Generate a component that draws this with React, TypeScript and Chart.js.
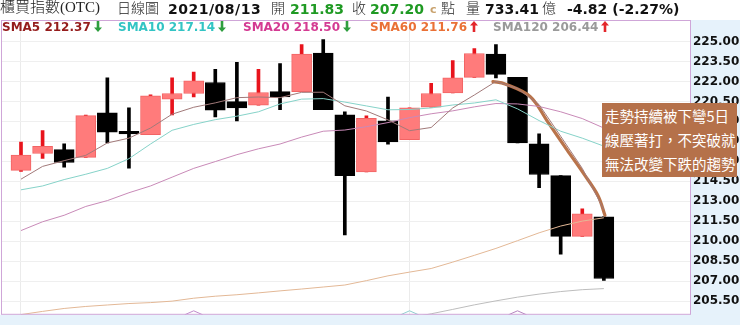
import React, { useEffect, useRef } from "react";
import { Chart, registerables } from "chart.js";
Chart.register(...registerables);

// ---- data ----
const dayIndex = [0, 1, 2, 3, 4, 5, 6, 7, 8, 9, 10, 11, 12, 13, 14, 15, 16, 17, 18, 19, 20, 21, 22, 23, 24, 25, 26, 27];
const openVals = [215.32, 216.59, 216.88, 216.3, 219.65, 218.26, 218.01, 220.67, 221.09, 221.92, 220.48, 220.21, 221.24, 221.24, 224.12, 219.5, 215.2, 219.04, 217.62, 220.07, 221.14, 222.31, 224.05, 222.31, 217.32, 214.93, 210.36, 211.83];
const closeVals = [216.47, 217.13, 215.91, 219.43, 218.18, 218.06, 220.92, 221.09, 222.05, 219.85, 220.01, 221.17, 220.84, 224.05, 219.87, 214.93, 219.23, 217.45, 220.01, 221.09, 222.27, 224.1, 222.53, 217.38, 215.01, 210.36, 212.05, 207.2];
const highVals = [217.45, 218.31, 217.32, 219.48, 222.27, 220.01, 220.99, 222.27, 222.71, 222.9, 223.44, 222.9, 223.34, 224.76, 225.15, 219.72, 219.41, 220.82, 220.01, 221.85, 223.56, 224.46, 224.76, 222.31, 218.06, 214.93, 212.44, 211.83];
const lowVals = [215.25, 216.22, 215.57, 216.3, 217.38, 215.49, 218.01, 219.48, 220.84, 219.33, 219.04, 220.21, 219.87, 221.24, 219.87, 210.48, 215.2, 217.28, 217.62, 220.07, 221.14, 222.31, 222.27, 217.38, 214.03, 209.02, 210.36, 207.06];

const sma5 = [214.66, 215.62, 216.05, 216.45, 217.38, 217.74, 218.5, 219.54, 220.06, 220.39, 220.78, 220.83, 220.78, 221.18, 221.19, 220.17, 219.78, 219.11, 218.3, 218.54, 220.01, 220.98, 222.0, 221.47, 220.26, 217.88, 215.47, 212.37];
const sma10 = [213.86, 214.15, 214.63, 215.03, 215.47, 216.2, 217.3, 218.33, 218.77, 219.13, 219.39, 219.72, 220.31, 220.67, 220.71, 220.45, 220.16, 219.87, 219.89, 220.01, 220.23, 220.38, 220.62, 219.94, 219.06, 218.26, 217.74, 217.14];
const sma20 = [210.8, 211.46, 211.95, 212.61, 213.05, 213.64, 214.15, 214.81, 215.47, 215.98, 216.5, 216.94, 217.3, 217.82, 218.26, 218.35, 218.6, 218.91, 219.28, 219.57, 219.79, 220.09, 220.34, 220.31, 220.12, 219.72, 219.21, 218.5];
const sma60 = [204.49, 204.73, 204.95, 205.1, 205.21, 205.32, 205.39, 205.5, 205.72, 205.87, 205.98, 206.12, 206.27, 206.41, 206.56, 206.71, 207.04, 207.4, 207.68, 207.95, 208.43, 208.94, 209.46, 210.04, 210.63, 211.14, 211.51, 211.76];
const sma120 = [null, null, null, null, null, null, null, null, null, null, null, null, null, null, null, null, null, 204.0, 204.25, 204.55, 204.88, 205.22, 205.52, 205.8, 206.03, 206.22, 206.36, 206.44];

// hand-drawn annotation stroke
const annoX = [21.86, 22.42, 23.58, 24.37, 25.3, 26.04, 26.73, 27.05];
const annoY = [221.99, 221.81, 220.87, 219.04, 216.84, 215.13, 213.42, 211.95];

const yTicks = [205.5, 207, 208.5, 210, 211.5, 213, 214.5, 216, 217.5, 219, 220.5, 222, 223.5, 225];
const gridDays = [0, 18];
const markerDays = [8, 18, 23];
const markerColors = ["#c08ccc", "#8fd0d0", "#b483bf"];

const smaNames = ["SMA5", "SMA10", "SMA20", "SMA60", "SMA120"];
const smaSeries = [sma5, sma10, sma20, sma60, sma120];
const smaTextColors = ["#951c1c", "#33c4c4", "#d43a92", "#ea7136", "#9a9a9a"];
const smaLineColors = ["#a27a7a", "#86d3c9", "#c98ab8", "#e3b896", "#bdbdbd"];
const legendX = [2, 118, 243, 370, 493];

const headerTitle = "櫃買指數(OTC)";
const headerType = "日線圖";
const headerDate = "2021/08/13";
const headerOpen = 211.83;
const headerClose = 207.2;
const headerVolume = 733.41;
const headerChange = -4.82;
const headerChangePct = -2.27;

const annotationLines = ["走勢持續被下彎5日", "線壓著打，不突破就", "無法改變下跌的趨勢"];

const Y_MIN = 204.474;
const Y_MAX = 226.613;
const X_MIN = -0.88;
const X_MAX = 30.99;

const CJK = "'Noto Sans CJK TC', 'Noto Sans CJK SC', sans-serif";
const NUM = "'DejaVu Sans', Verdana, sans-serif";

const bgPlugin = {
  id: "bgPlugin",
  beforeDraw(chart: any) {
    const { ctx, chartArea, width, height } = chart;
    ctx.save();
    ctx.fillStyle = "#ffffff";
    ctx.fillRect(0, 0, width, height);
    ctx.fillStyle = "#e6f2fb";
    ctx.fillRect(chartArea.right, chartArea.top, width - chartArea.right, height - chartArea.top);
    ctx.fillRect(0, chartArea.bottom, width, height - chartArea.bottom);
    ctx.restore();
  },
  afterDraw(chart: any) {
    const { ctx, chartArea } = chart;
    ctx.save();
    ctx.strokeStyle = "#cfa6d8";
    ctx.lineWidth = 1;
    ctx.strokeRect(chartArea.left - 0.5, chartArea.top + 0.5, chartArea.right - chartArea.left + 1, chartArea.bottom - chartArea.top - 1);
    ctx.restore();
  },
};

function Arrow({ up }: { up: boolean }) {
  const color = up ? "#e3262b" : "#2f9e3f";
  return (
    <svg width={8} height={11} viewBox="0 0 8 11" style={{ marginLeft: 3, verticalAlign: "-1px" }}>
      <g transform={up ? "" : "rotate(180 4 5.5)"}>
        <polygon points="4,0 8,4.6 5.3,4.6 5.3,11 2.7,11 2.7,4.6 0,4.6" fill={color} />
      </g>
    </svg>
  );
}

export default function App() {
  const ref = useRef<HTMLCanvasElement>(null);

  useEffect(() => {
    document.body.style.margin = "0";
    const canvas = ref.current!;
    const isUp = (i: number) => closeVals[i] >= openVals[i];

    const lineDs = (data: any[], color: string, width: number, extra: any = {}) => ({
      type: "line",
      data,
      borderColor: color,
      borderWidth: width,
      pointRadius: 0,
      fill: false,
      tension: 0,
      order: 0,
      ...extra,
    });

    const datasets: any[] = [
      {
        type: "bar",
        data: dayIndex.map((d, i) => ({ x: d, y: [lowVals[i], highVals[i]] })),
        backgroundColor: (c: any) => (isUp(c.dataIndex) ? "#e8141c" : "#000000"),
        borderWidth: 0,
        grouped: false,
        categoryPercentage: 1,
        barPercentage: 1,
        maxBarThickness: 3,
        order: 3,
      },
      {
        type: "bar",
        data: dayIndex.map((d, i) => ({ x: d, y: [openVals[i], closeVals[i]] })),
        backgroundColor: (c: any) => (isUp(c.dataIndex) ? "#ff7b7b" : "#000000"),
        borderColor: (c: any) => (isUp(c.dataIndex) ? "#f26464" : "#000000"),
        borderWidth: 1,
        borderSkipped: false,
        grouped: false,
        categoryPercentage: 1,
        barPercentage: 1,
        maxBarThickness: 20,
        order: 2,
      },
    ];

    smaSeries.forEach((s, k) => {
      datasets.push(lineDs(dayIndex.map((d, i) => ({ x: d, y: s[i] })), smaLineColors[k], 1));
    });

    markerDays.forEach((d, k) => {
      datasets.push(
        lineDs(
          [
            { x: d - 0.42, y: Y_MIN },
            { x: d, y: Y_MIN + 0.3 },
            { x: d + 0.42, y: Y_MIN },
          ],
          markerColors[k],
          1
        )
      );
    });

    datasets.push(
      lineDs(annoX.map((x, i) => ({ x, y: annoY[i] })), "#b9744b", 3.2, {
        tension: 0.35,
        borderCapStyle: "round",
        borderJoinStyle: "round",
      })
    );

    const chart = new Chart(canvas, {
      type: "bar",
      data: { datasets },
      options: {
        responsive: false,
        animation: false,
        layout: { padding: { left: 2, top: 20, right: 0, bottom: 3 } },
        plugins: { legend: { display: false }, tooltip: { enabled: false } },
        scales: {
          x: {
            type: "linear",
            offset: false,
            min: X_MIN,
            max: X_MAX,
            grid: { color: "#ebebeb", drawTicks: false, offset: false },
            border: { display: false },
            ticks: { display: false },
            afterBuildTicks: (s: any) => {
              s.ticks = gridDays.map((v) => ({ value: v }));
            },
            afterFit: (s: any) => {
              s.height = 0;
            },
          },
          y: {
            position: "right",
            min: Y_MIN,
            max: Y_MAX,
            grid: { color: "#efefef", drawTicks: false },
            border: { display: false },
            ticks: {
              padding: 3,
              color: "#111111",
              font: { family: "DejaVu Sans", weight: "bold", size: 12 },
              callback: (v: any) => Number(v).toFixed(2),
            },
            afterBuildTicks: (s: any) => {
              s.ticks = yTicks.map((v) => ({ value: v }));
            },
            afterFit: (s: any) => {
              s.width = 50;
            },
          },
        },
      } as any,
      plugins: [bgPlugin],
    });
    return () => chart.destroy();
  }, []);

  const fmt = (v: number) => v.toFixed(2);
  const cjkStyle = (x: number): React.CSSProperties => ({
    position: "absolute",
    left: x,
    top: -3,
    fontFamily: CJK,
    fontSize: 14,
    fontWeight: 300,
    lineHeight: "20px",
    color: "#222",
    whiteSpace: "nowrap",
  });
  const numStyle = (x: number, color: string): React.CSSProperties => ({
    position: "absolute",
    left: x,
    top: -1,
    fontFamily: NUM,
    fontWeight: "bold",
    fontSize: 14,
    lineHeight: "20px",
    color,
    whiteSpace: "nowrap",
  });
  const green = "#1f9a23";

  return (
    <div style={{ position: "fixed", left: 0, top: 0, width: 740, height: 325, background: "#fff", overflow: "hidden" }}>
      <canvas ref={ref} width={740} height={325} style={{ position: "absolute", left: 0, top: 0, width: 740, height: 325 }} />
      <span style={{ ...cjkStyle(0), fontFamily: "'Liberation Serif', " + CJK, fontSize: 15 }}>{headerTitle}</span>
      <span style={cjkStyle(117)}>{headerType}</span>
      <span style={{ ...numStyle(168, "#111"), letterSpacing: 0.5 }}>{headerDate}</span>
      <span style={cjkStyle(271)}>開</span>
      <span style={numStyle(290, green)}>{fmt(headerOpen)}</span>
      <span style={cjkStyle(352)}>收</span>
      <span style={numStyle(370, green)}>{fmt(headerClose)}</span>
      <span style={{ ...numStyle(430, "#c9a26e"), fontSize: 11, top: 0 }}>c</span>
      <span style={cjkStyle(441)}>點</span>
      <span style={cjkStyle(466)}>量</span>
      <span style={numStyle(485, "#111")}>{fmt(headerVolume)}</span>
      <span style={cjkStyle(542)}>億</span>
      <span style={numStyle(567, "#111")}>
        {fmt(headerChange)} ({fmt(headerChangePct)}%)
      </span>

      {smaNames.map((name, k) => {
        const s = smaSeries[k];
        const last = s[s.length - 1] as number;
        const prev = s[s.length - 2] as number;
        const up = last >= prev;
        return (
          <span
            key={name}
            style={{
              position: "absolute",
              left: legendX[k],
              top: 19,
              fontFamily: NUM,
              fontWeight: "bold",
              fontSize: 12,
              lineHeight: "16px",
              color: smaTextColors[k],
              whiteSpace: "nowrap",
            }}
          >
            {name} {fmt(last)}
            <Arrow up={up} />
          </span>
        );
      })}

      <div
        style={{
          position: "absolute",
          left: 602,
          top: 103,
          width: 135,
          height: 74,
          background: "#b5714a",
          color: "#fff",
          fontFamily: CJK,
          fontSize: 14.5,
          lineHeight: "24px",
          paddingLeft: 3,
          paddingTop: 1,
          boxSizing: "border-box",
          whiteSpace: "nowrap",
        }}
      >
        {annotationLines.map((l) => (
          <div key={l}>{l}</div>
        ))}
      </div>
    </div>
  );
}
